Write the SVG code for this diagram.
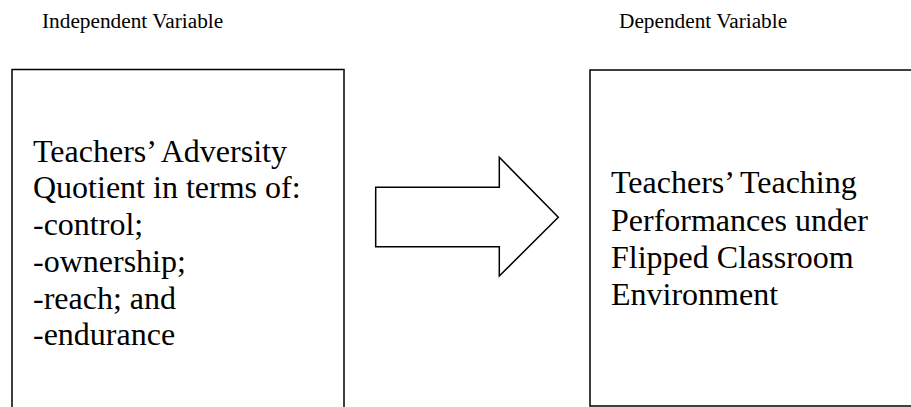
<svg xmlns="http://www.w3.org/2000/svg" width="911" height="407" viewBox="0 0 911 407">
<style>
.title{font-family:"Liberation Serif","Times New Roman",serif;font-size:21.3px;fill:#000}
.body{font-family:"Liberation Serif","Times New Roman",serif;font-size:32px;fill:#000}
.box{fill:#fff;stroke:#000;stroke-width:1.5}
</style>
<rect width="911" height="407" fill="#fff"/>
<g id="label-independent"><text class="title" x="42" y="28">Independent Variable</text></g>
<g id="label-dependent"><text class="title" x="619" y="28">Dependent Variable</text></g>
<g id="node-independent">
<path class="box" d="M12,410 V69.5 H344 V410"/>
<text class="body" x="33">
<tspan x="33" y="161.7">Teachers’ Adversity</tspan>
<tspan x="33" y="198.4">Quotient in terms of:</tspan>
<tspan x="33" y="235.1">-control;</tspan>
<tspan x="33" y="271.8">-ownership;</tspan>
<tspan x="33" y="308.5">-reach; and</tspan>
<tspan x="33" y="345.2">-endurance</tspan>
</text>
</g>
<g id="node-dependent">
<rect class="box" x="590" y="70" width="330" height="336"/>
<text class="body">
<tspan x="611" y="193.3">Teachers’ Teaching</tspan>
<tspan x="611" y="230.5">Performances under</tspan>
<tspan x="611" y="267.7">Flipped Classroom</tspan>
<tspan x="611" y="304.9">Environment</tspan>
</text>
</g>
<g id="connectors">
<polygon class="box" points="375.7,187.3 499.3,187.3 499.3,157.3 558.3,217.3 499.3,276 499.3,246.7 375.7,246.7"/>
</g>
</svg>
